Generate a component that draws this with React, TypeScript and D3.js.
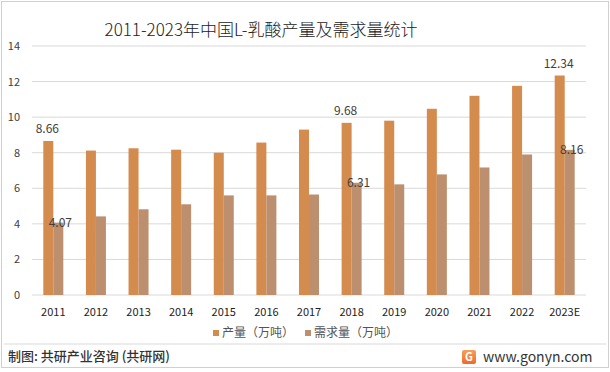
import React from 'react'
import * as d3 from 'd3'

const years = ['2011', '2012', '2013', '2014', '2015', '2016', '2017', '2018', '2019', '2020', '2021', '2022', '2023E']
const production = [8.66, 8.12, 8.25, 8.17, 8.0, 8.57, 9.3, 9.68, 9.8, 10.47, 11.2, 11.76, 12.34]
const demand = [4.07, 4.42, 4.82, 5.1, 5.6, 5.6, 5.65, 6.31, 6.22, 6.78, 7.17, 7.9, 8.16]
const yTicks = [0, 2, 4, 6, 8, 10, 12, 14]
// only these points carry labels in the source
const labelled = ['2011', '2018', '2023E']

const W = 610, H = 372
const margin = {top: 46, right: 24, bottom: 77, left: 32}
const font = '"Microsoft YaHei", "Noto Sans CJK SC", sans-serif'

export default function App() {
    const w = W - margin.left - margin.right
    const h = H - margin.top - margin.bottom

    const x = d3.scaleBand().domain(years).range([0, w])
    const y = d3.scaleLinear().domain([0, 14]).range([h, 0])
    const barW = 10

    const series = [
        {name: '产量（万吨）', values: production, color: '#D48B4E', off: -barW, lx: 213},
        {name: '需求量（万吨）', values: demand, color: '#BC8F6E', off: 0, lx: 305}
    ]

    return (
        <svg width={W} height={H} style={{position: 'absolute', left: 0, top: 0}} fontFamily={font}>
            <rect x={0} y={0} width={W} height={H} fill="#fff"/>
            <rect x={1.5} y={1.5} width={W - 3} height={H - 6} fill="none" stroke="#d0d0d0"/>
            <text x={261} y={36} textAnchor="middle" fontSize={17} fontWeight={300} fill="#222">2011-2023年中国L-乳酸产量及需求量统计</text>
            <g transform={'translate(' + margin.left + ',' + margin.top + ')'}>
                {yTicks.map(t => (
                    <g key={t}>
                        <line x1={0} x2={w} y1={y(t)} y2={y(t)} stroke="#d9d9d9"/>
                        <text x={-12} y={y(t) + 4} textAnchor="end" fontSize={11} fill="#404040">{t}</text>
                    </g>
                ))}
                {series.map(s => (
                    <g key={s.name}>
                        {s.values.map((v, i) => {
                            const cx = (x(years[i]) as number) + x.bandwidth() / 2 + s.off
                            return (
                                <g key={i}>
                                    <rect x={cx} y={y(v)} width={barW} height={h - y(v)} fill={s.color}/>
                                    {labelled.indexOf(years[i]) !== -1 &&
                                        <text x={cx + barW / 2 + (s.off === 0 ? 2 : -1)} y={s.off === 0 ? y(v) + 4 : y(v) - 8}
                                              textAnchor="middle" fontSize={12} fill="#404040">{v.toFixed(2)}</text>}
                                </g>
                            )
                        })}
                    </g>
                ))}
                {years.map(yr => (
                    <text key={yr} x={(x(yr) as number) + x.bandwidth() / 2} y={h + 21} textAnchor="middle" fontSize={11} fill="#222">{yr}</text>
                ))}
            </g>
            {/* legend */}
            <g fontSize={12} fill="#555">
                {series.map(s => (
                    <g key={s.name}>
                        <rect x={s.lx} y={330} width={6} height={6} fill={s.color}/>
                        <text x={s.lx + 9} y={337}>{s.name}</text>
                    </g>
                ))}
            </g>
            <line x1={4} x2={W - 4} y1={344} y2={344} stroke="#d9d9d9"/>
            <text x={8} y={361} fontSize={13} fontWeight={500} fill="#333">制图: 共研产业咨询 (共研网)</text>
            <defs>
                <linearGradient id="lg" x1="0" y1="0" x2="0" y2="1">
                    <stop offset="0" stopColor="#F5A05A"/>
                    <stop offset="1" stopColor="#EE6B2C"/>
                </linearGradient>
            </defs>
            <rect x={462} y={350} width={14} height={14} rx={2} fill="url(#lg)"/>
            <text x={469} y={361} textAnchor="middle" fontSize={11} fontWeight="bold" fill="#fff">G</text>
            <text x={483} y={362} fontSize={14} fill="#333">www.gonyn.com</text>
        </svg>
    )
}
